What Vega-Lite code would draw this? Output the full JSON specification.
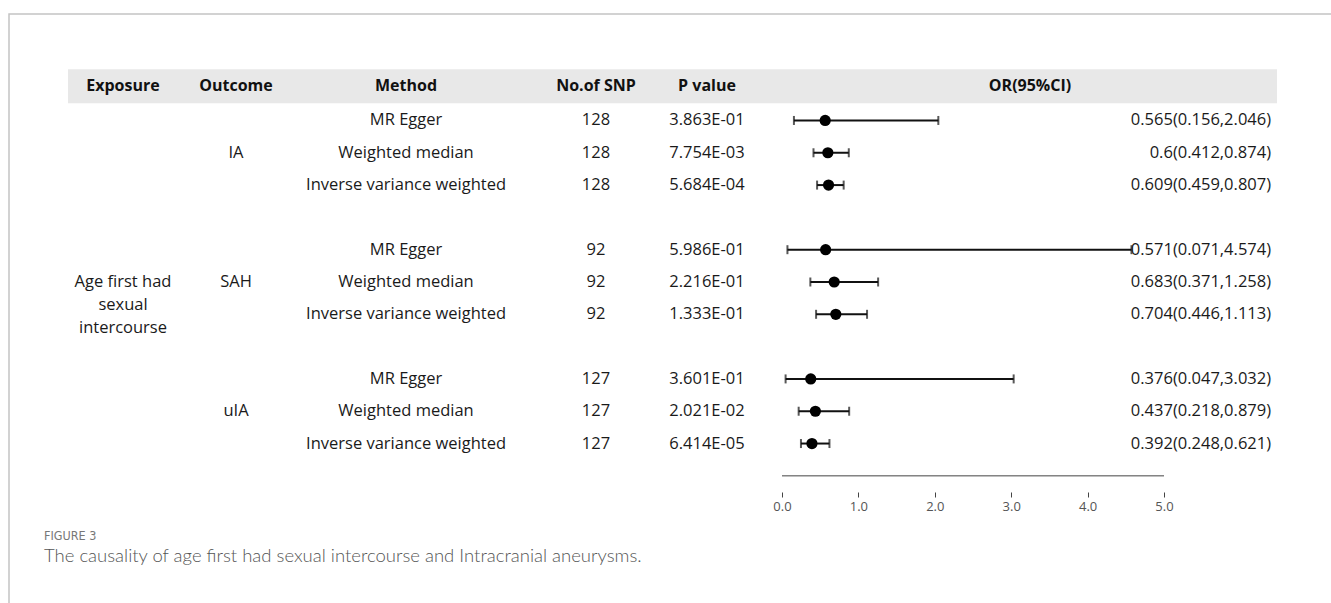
{
  "$schema": "https://vega.github.io/schema/vega-lite/v6.json",
  "width": 1325,
  "height": 592,
  "autosize": {"type": "none"},
  "padding": {"left": 9, "top": 14, "right": -3, "bottom": -3},
  "background": "white",
  "config": {
    "view": {"stroke": "#c4c4c4", "strokeWidth": 1.5},
    "font": "Open Sans"
  },
  "datasets": {
    "tbl": [
      {"row": "IA|MR Egger", "outcome": "IA", "method": "MR Egger", "snp": 128, "p": "3.863E-01", "or": 0.565, "lo": 0.156, "hi": 2.046, "label": "0.565(0.156,2.046)"},
      {"row": "IA|Weighted median", "outcome": "IA", "method": "Weighted median", "snp": 128, "p": "7.754E-03", "or": 0.6, "lo": 0.412, "hi": 0.874, "label": "0.6(0.412,0.874)"},
      {"row": "IA|Inverse variance weighted", "outcome": "IA", "method": "Inverse variance weighted", "snp": 128, "p": "5.684E-04", "or": 0.609, "lo": 0.459, "hi": 0.807, "label": "0.609(0.459,0.807)"},
      {"row": "SAH|MR Egger", "outcome": "SAH", "method": "MR Egger", "snp": 92, "p": "5.986E-01", "or": 0.571, "lo": 0.071, "hi": 4.574, "label": "0.571(0.071,4.574)"},
      {"row": "SAH|Weighted median", "outcome": "SAH", "method": "Weighted median", "snp": 92, "p": "2.216E-01", "or": 0.683, "lo": 0.371, "hi": 1.258, "label": "0.683(0.371,1.258)"},
      {"row": "SAH|Inverse variance weighted", "outcome": "SAH", "method": "Inverse variance weighted", "snp": 92, "p": "1.333E-01", "or": 0.704, "lo": 0.446, "hi": 1.113, "label": "0.704(0.446,1.113)"},
      {"row": "uIA|MR Egger", "outcome": "uIA", "method": "MR Egger", "snp": 127, "p": "3.601E-01", "or": 0.376, "lo": 0.047, "hi": 3.032, "label": "0.376(0.047,3.032)"},
      {"row": "uIA|Weighted median", "outcome": "uIA", "method": "Weighted median", "snp": 127, "p": "2.021E-02", "or": 0.437, "lo": 0.218, "hi": 0.879, "label": "0.437(0.218,0.879)"},
      {"row": "uIA|Inverse variance weighted", "outcome": "uIA", "method": "Inverse variance weighted", "snp": 127, "p": "6.414E-05", "or": 0.392, "lo": 0.248, "hi": 0.621, "label": "0.392(0.248,0.621)"}
    ],
    "hdr": [
      {"row": "hdr", "c1": "Exposure", "c2": "Outcome", "c3": "Method", "c4": "No.of SNP", "c5": "P value", "c6": "OR(95%CI)"}
    ],
    "expo": [
      {"row": "SAH|Weighted median", "exposure": "Age first had\nsexual\nintercourse"}
    ],
    "axisline": [
      {"row": "axis", "lo": 0, "hi": 5}
    ],
    "caption": [
      {"row": "axis", "fig": "FIGURE 3", "cap": "The causality of age first had sexual intercourse and Intracranial aneurysms."}
    ]
  },
  "encoding": {
    "y": {
      "field": "row",
      "type": "nominal",
      "axis": null,
      "scale": {
        "type": "point",
        "domain": ["hdr", "IA|MR Egger", "IA|Weighted median", "IA|Inverse variance weighted", "gap1", "SAH|MR Egger", "SAH|Weighted median", "SAH|Inverse variance weighted", "gap2", "uIA|MR Egger", "uIA|Weighted median", "uIA|Inverse variance weighted", "axis"],
        "range": [58, 478]
      }
    }
  },
  "layer": [
    {
      "data": {"name": "axisline"},
      "mark": {"type": "rule", "color": "#444", "strokeWidth": 1},
      "encoding": {
        "x": {
          "field": "lo",
          "type": "quantitative",
          "scale": {"domain": [-10.118, 7.225], "nice": false, "zero": false},
          "axis": {
            "values": [0, 1, 2, 3, 4, 5],
            "format": ".1f",
            "title": null,
            "domain": false,
            "grid": false,
            "offset": -114,
            "tickSize": 5,
            "tickColor": "#444",
            "tickWidth": 1,
            "labelFontSize": 13,
            "labelColor": "#555",
            "labelFont": "Open Sans",
            "labelPadding": 3
          }
        },
        "x2": {"field": "hi"}
      }
    },
    {
      "data": {"name": "hdr"},
      "mark": {"type": "rule", "color": "#e8e8e8", "strokeWidth": 34, "strokeCap": "butt", "yOffset": -2},
      "encoding": {
        "x": {"datum": -9.346, "type": "quantitative"},
        "x2": {"datum": 6.479}
      }
    },
    {
      "data": {"name": "hdr"},
      "mark": {"type": "text", "fontWeight": "bold", "fontSize": 16, "color": "#111", "align": "center", "yOffset": -2},
      "encoding": {"x": {"datum": -8.626, "type": "quantitative"}, "text": {"field": "c1"}}
    },
    {
      "data": {"name": "hdr"},
      "mark": {"type": "text", "fontWeight": "bold", "fontSize": 16, "color": "#111", "align": "center", "yOffset": -2},
      "encoding": {"x": {"datum": -7.147, "type": "quantitative"}, "text": {"field": "c2"}}
    },
    {
      "data": {"name": "hdr"},
      "mark": {"type": "text", "fontWeight": "bold", "fontSize": 16, "color": "#111", "align": "center", "yOffset": -2},
      "encoding": {"x": {"datum": -4.921, "type": "quantitative"}, "text": {"field": "c3"}}
    },
    {
      "data": {"name": "hdr"},
      "mark": {"type": "text", "fontWeight": "bold", "fontSize": 16, "color": "#111", "align": "center", "yOffset": -2},
      "encoding": {"x": {"datum": -2.435, "type": "quantitative"}, "text": {"field": "c4"}}
    },
    {
      "data": {"name": "hdr"},
      "mark": {"type": "text", "fontWeight": "bold", "fontSize": 16, "color": "#111", "align": "center", "yOffset": -2},
      "encoding": {"x": {"datum": -0.982, "type": "quantitative"}, "text": {"field": "c5"}}
    },
    {
      "data": {"name": "hdr"},
      "mark": {"type": "text", "fontWeight": "bold", "fontSize": 16, "color": "#111", "align": "center", "yOffset": -2},
      "encoding": {"x": {"datum": 3.246, "type": "quantitative"}, "text": {"field": "c6"}}
    },
    {
      "data": {"name": "expo"},
      "mark": {"type": "text", "fontSize": 16.5, "color": "#1a1a1a", "align": "center", "lineBreak": "\n", "lineHeight": 23},
      "encoding": {"x": {"datum": -8.626, "type": "quantitative"}, "text": {"field": "exposure"}}
    },
    {
      "data": {"name": "tbl"},
      "transform": [{"filter": "datum.method === 'Weighted median'"}],
      "mark": {"type": "text", "fontSize": 16.5, "color": "#1a1a1a", "align": "center"},
      "encoding": {"x": {"datum": -7.147, "type": "quantitative"}, "text": {"field": "outcome"}}
    },
    {
      "data": {"name": "tbl"},
      "mark": {"type": "text", "fontSize": 16.5, "color": "#1a1a1a", "align": "center"},
      "encoding": {"x": {"datum": -4.921, "type": "quantitative"}, "text": {"field": "method"}}
    },
    {
      "data": {"name": "tbl"},
      "mark": {"type": "text", "fontSize": 16.5, "color": "#1a1a1a", "align": "center"},
      "encoding": {"x": {"datum": -2.435, "type": "quantitative"}, "text": {"field": "snp"}}
    },
    {
      "data": {"name": "tbl"},
      "mark": {"type": "text", "fontSize": 16.5, "color": "#1a1a1a", "align": "center"},
      "encoding": {"x": {"datum": -0.982, "type": "quantitative"}, "text": {"field": "p"}}
    },
    {
      "data": {"name": "tbl"},
      "mark": {"type": "text", "fontSize": 16.5, "color": "#1a1a1a", "align": "right"},
      "encoding": {"x": {"datum": 6.401, "type": "quantitative"}, "text": {"field": "label"}}
    },
    {
      "data": {"name": "tbl"},
      "mark": {"type": "rule", "color": "#111", "strokeWidth": 2},
      "encoding": {"x": {"field": "lo", "type": "quantitative"}, "x2": {"field": "hi"}}
    },
    {
      "data": {"name": "tbl"},
      "mark": {"type": "tick", "color": "#111", "thickness": 2, "size": 9},
      "encoding": {"x": {"field": "lo", "type": "quantitative"}}
    },
    {
      "data": {"name": "tbl"},
      "mark": {"type": "tick", "color": "#111", "thickness": 2, "size": 9},
      "encoding": {"x": {"field": "hi", "type": "quantitative"}}
    },
    {
      "data": {"name": "tbl"},
      "mark": {"type": "circle", "color": "#000", "opacity": 1, "size": 125},
      "encoding": {"x": {"field": "or", "type": "quantitative"}}
    },
    {
      "data": {"name": "caption"},
      "mark": {"type": "text", "fontSize": 12.5, "color": "#777", "align": "left", "dy": 60, "font": "Liberation Sans Narrow, DejaVu Sans Condensed, Roboto, sans-serif"},
      "encoding": {"x": {"datum": -9.66, "type": "quantitative"}, "text": {"field": "fig"}}
    },
    {
      "data": {"name": "caption"},
      "mark": {"type": "text", "fontSize": 18.5, "color": "#555", "align": "left", "dy": 80, "font": "Lato", "fontWeight": 300},
      "encoding": {"x": {"datum": -9.66, "type": "quantitative"}, "text": {"field": "cap"}}
    }
  ]
}
